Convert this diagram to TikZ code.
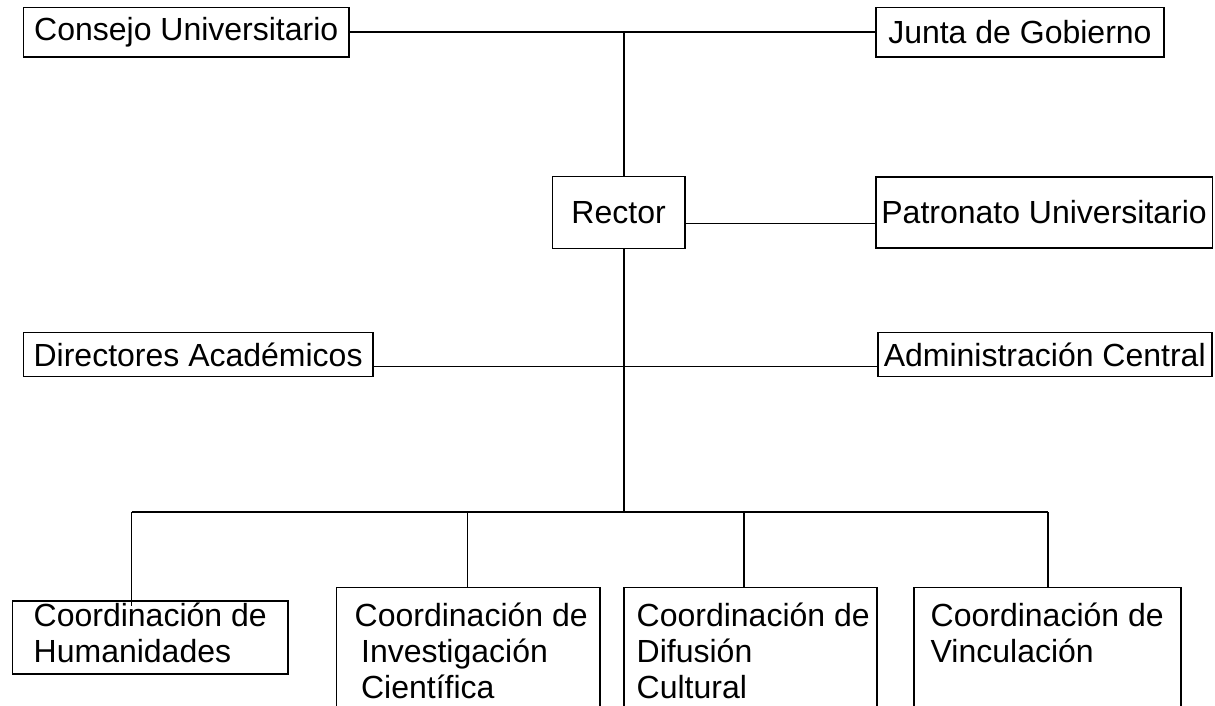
\documentclass[tikz,border=0pt]{standalone}
\usepackage{fontspec}
\setmainfont{Liberation Sans}
\begin{document}
\begin{tikzpicture}[x=1pt,y=-1pt,
  conn/.style={line width=1.4pt},
  box/.style={draw, line width=1.5pt, inner sep=0pt, anchor=north west,
    font=\fontsize{32}{36}\selectfont},
  lbl/.style={inner sep=0pt, anchor=north west, align=left,
    font=\fontsize{32}{36}\selectfont}]
\useasboundingbox (0,0) rectangle (1215,705);
\clip (0,0) rectangle (1215,705);
% top row
\node[box, minimum width=325.6pt, minimum height=49.3pt] (consejo) at (22.7,6.7) {Consejo Universitario};
\node[box, minimum width=288.3pt, minimum height=49.3pt] (junta) at (875,6.7) {Junta de Gobierno};
% rector row
\node[box, minimum width=132.3pt, minimum height=72pt] (rector) at (551.7,175.7) {Rector};
\node[box, minimum width=336.7pt, minimum height=71pt] (patronato) at (875,176) {Patronato Universitario};
% directors row
\node[box, minimum width=349.3pt, minimum height=44pt] (directores) at (22.7,331.7) {Directores Académicos};
\node[box, minimum width=334pt, minimum height=44pt] (admin) at (877,331.7) {Administración Central};
% bottom row
\node[box, minimum width=275.3pt, minimum height=73pt] (hum) at (11.7,600) {};
\node[box, minimum width=263.6pt, minimum height=160pt] (inv) at (335.7,586.7) {};
\node[box, minimum width=253pt, minimum height=160pt] (dif) at (623,586.7) {};
\node[box, minimum width=266.8pt, minimum height=160pt] (vin) at (913.4,586.7) {};
\node[lbl] (humt) at (33.5,601) {\strut Coordinación de\\Humanidades};
\node[lbl] (invt) at (354.5,601) {\strut Coordinación de\\\hspace*{0.2em}Investigación\\\hspace*{0.2em}Científica};
\node[lbl] (dift) at (636.5,601) {\strut Coordinación de\\Difusión\\Cultural};
\node[lbl] (vint) at (930.5,601) {\strut Coordinación de\\Vinculación};
% helper coordinates
\coordinate (spine) at (624,0);
\coordinate (rl) at (0,223.5);
\coordinate (dl) at (0,366.7);
\coordinate (bus) at (0,512);
\coordinate (hd) at (131.7,606);
\coordinate (idrop) at (467.7,0);
\coordinate (ddrop) at (744,0);
\coordinate (vdrop) at (1047.8,0);
% connectors
\draw[conn] (consejo.east) -- (junta.west);
\draw[conn] (spine |- consejo.east) -- (spine |- rector.north);
\draw[conn] (rector.east |- rl) -- (patronato.west |- rl);
\draw[conn] (spine |- rector.south) -- (spine |- bus);
\draw[conn] (directores.east |- dl) -- (admin.west |- dl);
\draw[conn] (hd |- bus) -- (vdrop |- bus);
\draw[conn] (hd |- bus) -- (hd);
\draw[conn] (idrop |- bus) -- (idrop |- inv.north);
\draw[conn] (ddrop |- bus) -- (ddrop |- dif.north);
\draw[conn] (vdrop |- bus) -- (vdrop |- vin.north);
\end{tikzpicture}
\end{document}
